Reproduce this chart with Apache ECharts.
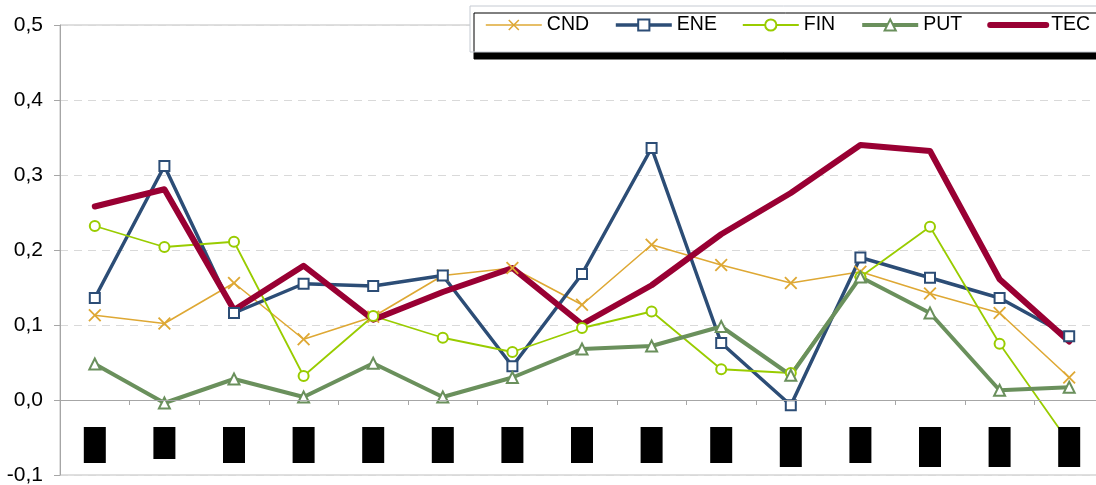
<!DOCTYPE html>
<html>
<head>
<meta charset="utf-8">
<script src="https://cdn.jsdelivr.net/npm/echarts@6/dist/echarts.min.js"></script>
<style>
html,body{margin:0;padding:0;background:#fff;}
#chart{width:1096px;height:485px;}
</style>
</head>
<body>
<div id="chart"></div>
<script>
const categories = ['1','2','3','4','5','6','7','8','9','10','11','12','13','14','15'];
const yTicks = [-0.1, 0.0, 0.1, 0.2, 0.3, 0.4, 0.5];
const seriesNames = ['CND','ENE','FIN','PUT','TEC'];
const cnd = [0.113,0.102,0.156,0.081,0.111,0.166,0.176,0.127,0.207,0.180,0.156,0.171,0.142,0.116,0.030];
const ene = [0.136,0.312,0.116,0.155,0.152,0.166,0.045,0.168,0.336,0.076,-0.007,0.190,0.163,0.136,0.085];
const fin = [0.232,0.204,0.211,0.032,0.112,0.083,0.064,0.096,0.118,0.041,0.036,0.164,0.231,0.075,-0.057];
const put = [0.048,-0.004,0.028,0.004,0.049,0.004,0.030,0.068,0.072,0.098,0.033,0.164,0.116,0.013,0.017];
const tec = [0.258,0.281,0.120,0.179,0.107,0.144,0.176,0.101,0.153,0.221,0.276,0.340,0.332,0.161,0.078];

const FONT = "'Liberation Sans', Arial, sans-serif";
const blockKey = (i) => (i === 1 ? 's' : (i === 10 || i >= 12) ? 'l' : 'm');
const block = (h) => ({ backgroundColor: '#000', color: '#000', width: 22, height: h, fontSize: 10 });

const chart = echarts.init(document.getElementById('chart'), null, { renderer: 'canvas' });
const crossPath = 'path://M0,1L1,0L5,4L9,0L10,1L6,5L10,9L9,10L5,6L1,10L0,9L4,5Z';

chart.setOption({
  animation: false,
  backgroundColor: '#fff',
  textStyle: { fontFamily: FONT },
  grid: {
    left: 60, top: 25, bottom: 10, right: -8,
    outerBoundsMode: 'none', containLabel: false,
    show: true, borderColor: '#BFBFBF', borderWidth: 1, backgroundColor: 'transparent'
  },
  legend: {
    data: seriesNames.map(n => n === 'TEC' ? { name: n, itemStyle: { opacity: 0 } } : n),
    left: 470, top: 6, width: 700,
    padding: [9, 15, 17, 15],
    itemWidth: 56, itemHeight: 14, itemGap: 25,
    lineStyle: { width: 'inherit' },
    backgroundColor: '#fff',
    borderColor: '#C5CAD2', borderWidth: 1,
    shadowColor: '#000', shadowOffsetX: 4, shadowOffsetY: 7, shadowBlur: 0,
    textStyle: { fontSize: 19.5, color: '#000', fontFamily: FONT, lineHeight: 20 }
  },
  xAxis: {
    type: 'category',
    data: categories,
    boundaryGap: true,
    z: 10,
    axisLine: { show: true, onZero: true, lineStyle: { color: '#A6A6A6', width: 1 } },
    axisTick: { show: true, length: 5, lineStyle: { color: '#A6A6A6' } },
    axisLabel: {
      interval: 0, margin: -48,
      formatter: (v, i) => '{' + blockKey(i) + '|' + v + '}',
      rich: { s: block(32), m: block(36), l: block(40) }
    },
    splitLine: { show: false }
  },
  yAxis: {
    type: 'value',
    min: yTicks[0], max: yTicks[yTicks.length - 1], interval: 0.1,
    axisLine: { show: true, lineStyle: { color: '#A6A6A6', width: 1 } },
    axisTick: { show: true, length: 6, lineStyle: { color: '#A6A6A6' } },
    axisLabel: {
      margin: 17, fontSize: 21, color: '#000', fontFamily: FONT,
      formatter: (v) => v.toFixed(1).replace('.', ',')
    },
    splitLine: { show: true, lineStyle: { color: '#D9D9D9', type: [8, 6], width: 1 } }
  },
  series: [
    {
      name: 'CND', type: 'line', data: cnd,
      symbol: crossPath, symbolSize: 13, showSymbol: true,
      lineStyle: { color: '#DEA834', width: 1.6 },
      itemStyle: { color: '#DEA834', borderWidth: 0 }
    },
    {
      name: 'ENE', type: 'line', data: ene,
      symbol: 'emptyRect', symbolSize: 10,
      lineStyle: { color: '#2C4D76', width: 3.5, join: 'round' },
      itemStyle: { color: '#2C4D76', borderColor: '#2C4D76', borderWidth: 2 }
    },
    {
      name: 'FIN', type: 'line', data: fin,
      symbol: 'emptyCircle', symbolSize: 10,
      lineStyle: { color: '#99CC00', width: 1.8 },
      itemStyle: { color: '#99CC00', borderColor: '#99CC00', borderWidth: 2 }
    },
    {
      name: 'PUT', type: 'line', data: put,
      symbol: 'emptyTriangle', symbolSize: 11,
      lineStyle: { color: '#6A905C', width: 4, join: 'round' },
      itemStyle: { color: '#6A905C', borderColor: '#6A905C', borderWidth: 2 }
    },
    {
      name: 'TEC', type: 'line', data: tec,
      symbol: 'none',
      lineStyle: { color: '#990033', width: 6, join: 'round', cap: 'round' },
      itemStyle: { color: '#990033' }
    }
  ]
});
</script>
</body>
</html>
